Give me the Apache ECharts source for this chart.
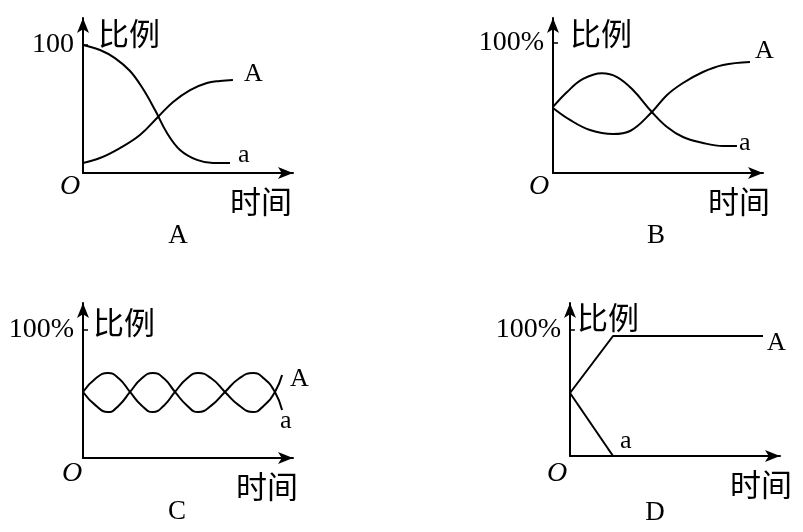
<!DOCTYPE html>
<html>
<head>
<meta charset="utf-8">
<script src="https://cdn.jsdelivr.net/npm/echarts@6/dist/echarts.min.js"></script>
<style>
  body { margin: 0; background: #fff; }
</style>
</head>
<body>
<div id="main" style="width: 803px;height:532px;"></div>
<script>
// 四个小图的数据（时间, 比例%）
var timeA_A = [0, 8.1, 17.6, 27.1, 35.7, 42.9, 51, 59, 65.2, 71.4];
var ratioA_A = [7.8, 11.7, 19.5, 29.7, 43.8, 55.5, 64.8, 70.3, 71.9, 72.7];
var timeA_a = [0, 8.1, 15.2, 22.4, 28.6, 34.3, 40, 46.2, 54.3, 61.9, 70];
var ratioA_a = [100, 96.1, 89.8, 79.7, 65.6, 49.2, 31.3, 18, 10.2, 7.8, 7.8];

var timeB_A = [0, 8.1, 17.6, 28.6, 36.7, 47.1, 54.3, 61.9, 71.4, 81, 93.8];
var ratioB_A = [50, 40.8, 33.1, 30, 32.3, 46.9, 60, 69.2, 77.7, 83.1, 85.4];
var timeB_a = [0, 6.7, 14.3, 23.3, 30.5, 38.1, 47.1, 54.3, 61.9, 71.4, 81, 87.6];
var ratioB_a = [50.8, 62.3, 72.3, 76.7, 73.8, 63.8, 46.9, 35.4, 27.7, 23.1, 20.8, 20.8];

var timeC = [0, 6, 11.9, 17.1, 22.4, 27.9, 33.3, 38.6, 43.8, 49.5, 54.8, 61.2, 67.6, 74.3, 81, 86.2, 91.4, 94.8];
var ratioC_A = [51.6, 62.1, 66.4, 62.1, 51.6, 41.1, 35.9, 41.1, 51.6, 62.1, 66.4, 62.1, 51.6, 41.1, 35.9, 41.1, 51.6, 64.8];
var ratioC_a = [51.6, 41.1, 35.9, 41.1, 51.6, 62.1, 66.4, 62.1, 51.6, 41.1, 35.9, 41.1, 51.6, 62.1, 66.4, 62.1, 51.6, 37.5];

var timeD_A = [0, 20.5, 91.9];
var ratioD_A = [50, 95.2, 95.2];
var timeD_a = [0, 20.5];
var ratioD_a = [50, 0];

var tickLabels = ['100', '100%', '100%', '100%'];
var captions = ['A', 'B', 'C', 'D'];
var yMax = [121.1, 119.2, 121.1, 121.4];

var serif = '"Liberation Serif", "Times New Roman", serif';
var cjk = '"Noto Sans CJK SC", sans-serif';

function pairs(xs, ys) {
  return xs.map(function (x, i) { return [x, ys[i]]; });
}

var grids = [
  { left: 83, top: 18, width: 210, height: 155 },
  { left: 553, top: 18, width: 210, height: 155 },
  { left: 83, top: 303, width: 210, height: 155 },
  { left: 570, top: 303, width: 210, height: 153 }
];
var yNameGap = [-15, -15, -19, -14];
var yNamePad = [15, 17, 10, 7];
var xNameGap = [-1, 7, 5, 12];

var axisLine = {
  lineStyle: { color: '#000', width: 2 },
  symbol: ['none', 'arrow'],
  symbolSize: [9, 15]
};

var xAxes = [], yAxes = [];
for (var i = 0; i < 4; i++) {
  xAxes.push({
    gridIndex: i, type: 'value', min: 0, max: 100,
    name: '时间', nameLocation: 'end', nameGap: xNameGap[i],
    nameTextStyle: { fontFamily: cjk, fontSize: 31, color: '#000', align: 'right', verticalAlign: 'top', padding: [13, 0, 0, 0] },
    axisLine: axisLine, axisTick: { show: false }, axisLabel: { show: false }, splitLine: { show: false }
  });
  yAxes.push({
    gridIndex: i, type: 'value', min: 0, max: yMax[i],
    name: '比例', nameLocation: 'end', nameGap: yNameGap[i],
    nameTextStyle: { fontFamily: cjk, fontSize: 31, color: '#000', align: 'left', verticalAlign: 'middle', padding: [0, 0, 0, yNamePad[i]] },
    axisLine: axisLine,
    axisTick: { show: true, inside: true, length: 5, customValues: [100], lineStyle: { color: '#000', width: 1.5 } },
    axisLabel: {
      show: true, customValues: [100], margin: 9,
      formatter: (function (t) { return function () { return t; }; })(tickLabels[i]),
      fontFamily: serif, fontSize: 28, color: '#000'
    },
    splitLine: { show: false }
  });
}

function curve(name, gi, data, smooth, offset) {
  return {
    name: name, type: 'line', xAxisIndex: gi, yAxisIndex: gi,
    data: data, smooth: smooth, symbol: 'none',
    lineStyle: { color: '#000', width: 2 },
    endLabel: {
      show: true, formatter: name, distance: 0, offset: offset,
      align: 'left', verticalAlign: 'middle',
      fontFamily: serif, fontSize: 26, color: '#000'
    }
  };
}

var series = [
  curve('A', 0, pairs(timeA_A, ratioA_A), 0.4, [11, -6]),
  curve('a', 0, pairs(timeA_a, ratioA_a), 0.4, [8, -8]),
  curve('A', 1, pairs(timeB_A, ratioB_A), 0.4, [5, -11]),
  curve('a', 1, pairs(timeB_a, ratioB_a), 0.4, [2, -3]),
  curve('A', 2, pairs(timeC, ratioC_A), 0.5, [8, 4]),
  curve('a', 2, pairs(timeC, ratioC_a), 0.5, [-2, 11]),
  curve('A', 3, pairs(timeD_A, ratioD_A), false, [4, 7]),
  curve('a', 3, pairs(timeD_a, ratioD_a), false, [7, -15])
];

// 原点 O 与小图标题
var oPos = [[70, 187], [539, 187], [72, 474], [557, 474]];
var capPos = [[178, 236], [656, 236], [177, 512], [655, 513]];
var graphic = [];
for (var k = 0; k < 4; k++) {
  graphic.push({
    type: 'text', x: oPos[k][0], y: oPos[k][1],
    style: { text: 'O', font: 'italic 28px ' + serif, fill: '#000', align: 'center', verticalAlign: 'middle' }
  });
  graphic.push({
    type: 'text', x: capPos[k][0], y: capPos[k][1],
    style: { text: captions[k], font: '27px ' + serif, fill: '#000', align: 'center', verticalAlign: 'middle' }
  });
}

var myChart = echarts.init(document.getElementById('main'));
var option = {
  animation: false,
  backgroundColor: '#fff',
  grid: grids,
  xAxis: xAxes,
  yAxis: yAxes,
  series: series,
  graphic: graphic
};
myChart.setOption(option);
</script>
</body>
</html>
